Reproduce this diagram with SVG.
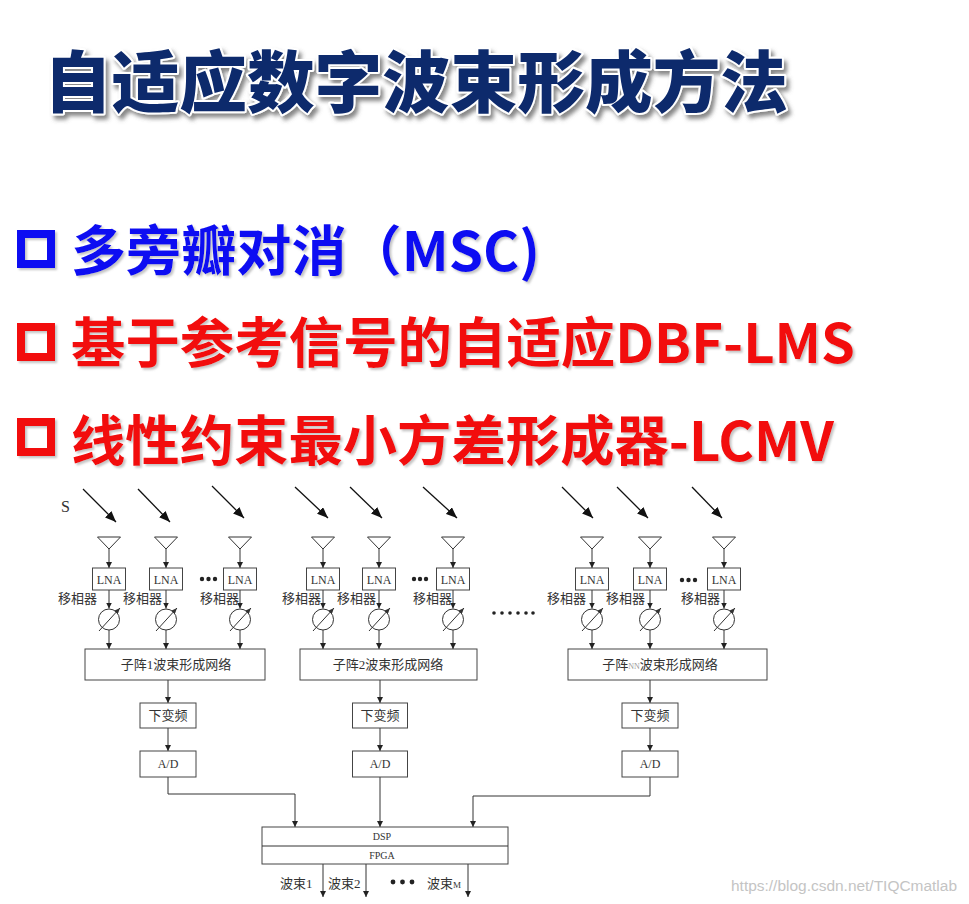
<svg xmlns="http://www.w3.org/2000/svg" width="969" height="904" viewBox="0 0 969 904">
<defs>
<filter id="tsh" x="-5%" y="-20%" width="110%" height="150%">
<feDropShadow dx="3" dy="4" stdDeviation="2" flood-color="#555" flood-opacity="0.7"/>
</filter>
<filter id="bsh" x="-5%" y="-20%" width="110%" height="150%">
<feDropShadow dx="2" dy="2" stdDeviation="1.2" flood-color="#888" flood-opacity="0.5"/>
</filter>
<marker id="ah" markerWidth="6" markerHeight="6" refX="6" refY="3" orient="auto" markerUnits="userSpaceOnUse">
<path d="M0,0 L6,3 L0,6 z" fill="#222"/>
</marker>
<marker id="ahs" markerWidth="6" markerHeight="5" refX="6" refY="2.5" orient="auto" markerUnits="userSpaceOnUse">
<path d="M0,0 L6,2.5 L0,5 z" fill="#333"/>
</marker>
<marker id="ahb" markerWidth="11" markerHeight="9" refX="11" refY="4.5" orient="auto" markerUnits="userSpaceOnUse">
<path d="M0,0 L11,4.5 L0,9 z" fill="#111"/>
</marker>
<g id="ant"><polygon points="-11.5,537 11.5,537 0,549" fill="none" stroke="#333" stroke-width="1"/></g>
<g id="ps">
<circle cx="0" cy="619.5" r="10.5" fill="none" stroke="#333" stroke-width="1"/>
<line x1="-10" y1="631" x2="11" y2="608" stroke="#333" stroke-width="1" marker-end="url(#ahs)"/>
</g>
</defs>
<style>
.title{font-family:"Noto Sans CJK SC","Noto Sans CJK JP",sans-serif;font-weight:900;font-size:67px;fill:#0e2a6c;stroke:#fff;stroke-width:4px;paint-order:stroke;stroke-linejoin:round}
.bl{font-family:"Noto Sans CJK SC","Noto Sans CJK JP",sans-serif;font-weight:700;font-size:54px}
.blue{fill:#0a0af2}
.red{fill:#f20808}
.sqb{fill:none;stroke:#0a0af2;stroke-width:8}
.sqr{fill:none;stroke:#f20808;stroke-width:8}
.box{fill:#fff;stroke:#444;stroke-width:1}
.t{font-family:"Liberation Serif","Noto Sans CJK SC",serif;fill:#333;font-size:13px}
.s12{font-size:12px}
.s10{font-size:10px}
.s16{font-size:16px}
.tc{text-anchor:middle}
.ln{stroke:#333;stroke-width:1;fill:none}
.dt{fill:#222}
.wm{font-family:"Liberation Sans",Arial,sans-serif;font-size:14px;fill:#c4c4c4}
</style>
<rect width="969" height="904" fill="#fff"/>

<g id="title" filter="url(#tsh)">
<text class="title" x="44" y="107" textLength="744" lengthAdjust="spacingAndGlyphs">自适应数字波束形成方法</text>
</g>

<g id="bullets" filter="url(#bsh)">
<rect class="sqb" x="21" y="234" width="30" height="30"/>
<text class="bl blue" x="71" y="271" textLength="469" lengthAdjust="spacingAndGlyphs">多旁瓣对消（MSC)</text>
<rect class="sqr" x="21" y="327" width="30" height="30"/>
<text class="bl red" x="71" y="363" textLength="784" lengthAdjust="spacingAndGlyphs">基于参考信号的自适应DBF-LMS</text>
<rect class="sqr" x="21" y="422" width="30" height="30"/>
<text class="bl red" x="71" y="461" textLength="763" lengthAdjust="spacingAndGlyphs">线性约束最小方差形成器-LCMV</text>
</g>

<g id="connectors">
<g stroke="#111" stroke-width="1.3" marker-end="url(#ahb)">
<line x1="83" y1="489" x2="116" y2="522"/>
<line x1="138" y1="489" x2="170" y2="522"/>
<line x1="212" y1="486" x2="244" y2="518"/>
<line x1="295" y1="487" x2="328" y2="518"/>
<line x1="350" y1="487" x2="382" y2="518"/>
<line x1="423" y1="487" x2="457" y2="518"/>
<line x1="562" y1="487" x2="593" y2="518"/>
<line x1="617" y1="487" x2="648" y2="518"/>
<line x1="692" y1="487" x2="722" y2="518"/>
</g>
<g class="ln" marker-end="url(#ah)">
<line x1="109" y1="549" x2="109" y2="568"/><line x1="109" y1="590" x2="109" y2="608.5"/><line x1="109" y1="630" x2="109" y2="649"/>
<line x1="166" y1="549" x2="166" y2="568"/><line x1="166" y1="590" x2="166" y2="608.5"/><line x1="166" y1="630" x2="166" y2="649"/>
<line x1="240" y1="549" x2="240" y2="568"/><line x1="240" y1="590" x2="240" y2="608.5"/><line x1="240" y1="630" x2="240" y2="649"/>
<line x1="323" y1="549" x2="323" y2="568"/><line x1="323" y1="590" x2="323" y2="608.5"/><line x1="323" y1="630" x2="323" y2="649"/>
<line x1="379" y1="549" x2="379" y2="568"/><line x1="379" y1="590" x2="379" y2="608.5"/><line x1="379" y1="630" x2="379" y2="649"/>
<line x1="453" y1="549" x2="453" y2="568"/><line x1="453" y1="590" x2="453" y2="608.5"/><line x1="453" y1="630" x2="453" y2="649"/>
<line x1="592" y1="549" x2="592" y2="568"/><line x1="592" y1="590" x2="592" y2="608.5"/><line x1="592" y1="630" x2="592" y2="649"/>
<line x1="650" y1="549" x2="650" y2="568"/><line x1="650" y1="590" x2="650" y2="608.5"/><line x1="650" y1="630" x2="650" y2="649"/>
<line x1="724" y1="549" x2="724" y2="568"/><line x1="724" y1="590" x2="724" y2="608.5"/><line x1="724" y1="630" x2="724" y2="649"/>
<line x1="168" y1="680" x2="168" y2="703"/><line x1="168" y1="728" x2="168" y2="751"/>
<line x1="380" y1="680" x2="380" y2="703"/><line x1="380" y1="728" x2="380" y2="751"/>
<line x1="650" y1="680" x2="650" y2="703"/><line x1="650" y1="728" x2="650" y2="751"/>
<path d="M168,777 V794 H295 V827"/>
<line x1="380" y1="777" x2="380" y2="827"/>
<path d="M650,777 V796 H473 V827"/>
<line x1="323" y1="864" x2="323" y2="897"/>
<line x1="366" y1="864" x2="366" y2="897"/>
<line x1="468" y1="864" x2="468" y2="897"/>
</g>
</g>

<g id="source"><text class="t s16" x="61" y="512">S</text></g>

<g id="subarray1">
<use href="#ant" x="109"/><use href="#ant" x="166"/><use href="#ant" x="240"/>
<rect class="box" x="92.5" y="568" width="33" height="22"/><text class="t tc s12" x="109" y="584">LNA</text>
<rect class="box" x="149.5" y="568" width="33" height="22"/><text class="t tc s12" x="166" y="584">LNA</text>
<rect class="box" x="223.5" y="568" width="33" height="22"/><text class="t tc s12" x="240" y="584">LNA</text>
<circle class="dt" cx="202" cy="579" r="2.2"/><circle class="dt" cx="208.5" cy="579" r="2.2"/><circle class="dt" cx="215" cy="579" r="2.2"/>
<text class="t" x="58" y="603">移相器</text><text class="t" x="123" y="603">移相器</text><text class="t" x="200" y="603">移相器</text>
<use href="#ps" x="109"/><use href="#ps" x="166"/><use href="#ps" x="240"/>
<rect class="box" x="85" y="649" width="180" height="31"/>
<text class="t tc" x="176" y="669">子阵1波束形成网络</text>
</g>

<g id="subarray2">
<use href="#ant" x="323"/><use href="#ant" x="379"/><use href="#ant" x="453"/>
<rect class="box" x="306.5" y="568" width="33" height="22"/><text class="t tc s12" x="323" y="584">LNA</text>
<rect class="box" x="362.5" y="568" width="33" height="22"/><text class="t tc s12" x="379" y="584">LNA</text>
<rect class="box" x="436.5" y="568" width="33" height="22"/><text class="t tc s12" x="453" y="584">LNA</text>
<circle class="dt" cx="414" cy="579" r="2.2"/><circle class="dt" cx="420" cy="579" r="2.2"/><circle class="dt" cx="426" cy="579" r="2.2"/>
<text class="t" x="282" y="603">移相器</text><text class="t" x="337" y="603">移相器</text><text class="t" x="413" y="603">移相器</text>
<use href="#ps" x="323"/><use href="#ps" x="379"/><use href="#ps" x="453"/>
<rect class="box" x="300" y="649" width="177" height="31"/>
<text class="t tc" x="388" y="669">子阵2波束形成网络</text>
</g>

<g id="gap-dots">
<circle class="dt" cx="494" cy="613" r="1.8"/><circle class="dt" cx="502" cy="613" r="1.8"/><circle class="dt" cx="510" cy="613" r="1.8"/>
<circle class="dt" cx="518" cy="613" r="1.8"/><circle class="dt" cx="526" cy="613" r="1.8"/><circle class="dt" cx="533" cy="613" r="1.8"/>
</g>

<g id="subarrayN">
<use href="#ant" x="592"/><use href="#ant" x="650"/><use href="#ant" x="724"/>
<rect class="box" x="575.5" y="568" width="33" height="22"/><text class="t tc s12" x="592" y="584">LNA</text>
<rect class="box" x="633.5" y="568" width="33" height="22"/><text class="t tc s12" x="650" y="584">LNA</text>
<rect class="box" x="707.5" y="568" width="33" height="22"/><text class="t tc s12" x="724" y="584">LNA</text>
<circle class="dt" cx="682" cy="580" r="2.2"/><circle class="dt" cx="688.5" cy="580" r="2.2"/><circle class="dt" cx="695" cy="580" r="2.2"/>
<text class="t" x="547" y="603">移相器</text><text class="t" x="606" y="603">移相器</text><text class="t" x="681" y="603">移相器</text>
<use href="#ps" x="592"/><use href="#ps" x="650"/><use href="#ps" x="724"/>
<rect class="box" x="568" y="649" width="199" height="31"/>
<text class="t tc" x="660" y="669">子阵<tspan font-size="8" fill="#999">NN</tspan>波束形成网络</text>
</g>

<g id="dc1"><rect class="box" x="140" y="703" width="56" height="25"/><text class="t tc" x="168" y="720">下变频</text></g>
<g id="dc2"><rect class="box" x="352.5" y="703" width="55" height="25"/><text class="t tc" x="380" y="720">下变频</text></g>
<g id="dcN"><rect class="box" x="622" y="703" width="56" height="25"/><text class="t tc" x="650" y="720">下变频</text></g>
<g id="ad1"><rect class="box" x="140" y="751" width="56" height="26"/><text class="t tc s12" x="168" y="768">A/D</text></g>
<g id="ad2"><rect class="box" x="352.5" y="751" width="55" height="26"/><text class="t tc s12" x="380" y="768">A/D</text></g>
<g id="adN"><rect class="box" x="622" y="751" width="56" height="26"/><text class="t tc s12" x="650" y="768">A/D</text></g>

<g id="dsp-fpga">
<rect class="box" x="262" y="827" width="246" height="37"/>
<line class="ln" x1="262" y1="846" x2="508" y2="846"/>
<text class="t tc s10" x="382" y="840">DSP</text>
<text class="t tc s10" x="382" y="859">FPGA</text>
</g>

<g id="outputs">
<text class="t" x="280" y="888">波束1</text>
<text class="t" x="328" y="888">波束2</text>
<circle class="dt" cx="393" cy="882" r="2.4"/><circle class="dt" cx="402.5" cy="882" r="2.4"/><circle class="dt" cx="412" cy="882" r="2.4"/>
<text class="t" x="427" y="888">波束<tspan font-size="9">M</tspan></text>
</g>

<text class="wm" x="731" y="891" textLength="226" lengthAdjust="spacingAndGlyphs">https://blog.csdn.net/TIQCmatlab</text>
</svg>
